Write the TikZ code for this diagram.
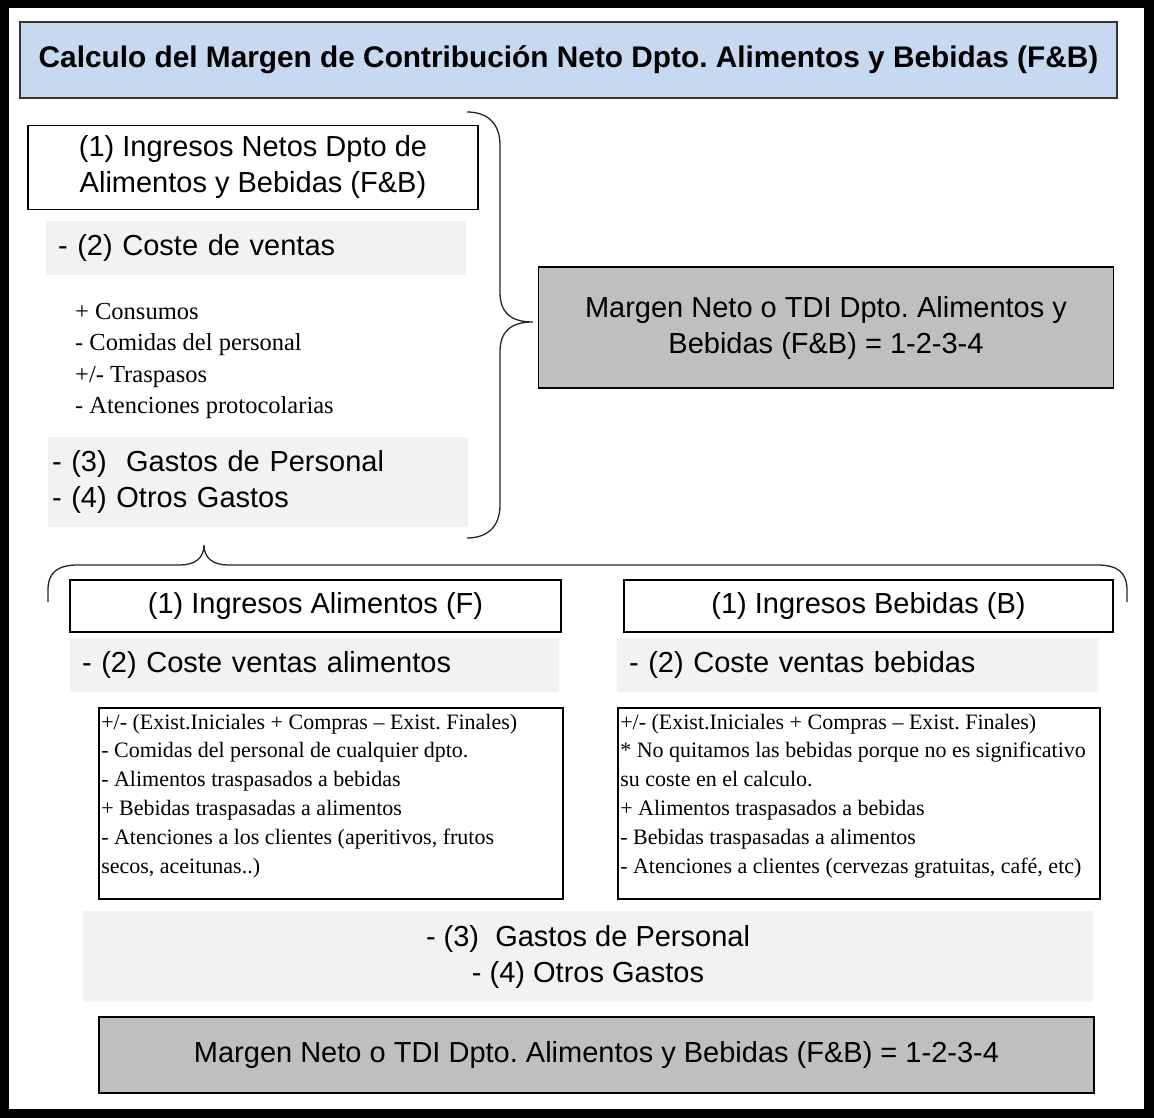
\documentclass[tikz,border=0pt]{standalone}
\usepackage{fontspec}
\setmainfont{Liberation Serif}
\newfontfamily\arial{Liberation Sans}
\definecolor{titleblue}{HTML}{C6D9F1}
\definecolor{lightfill}{HTML}{F2F2F2}
\definecolor{darkfill}{HTML}{BFBFBF}
\newcommand{\titlefont}{\frenchspacing\arial\bfseries\fontsize{29.8}{35}\selectfont}
\newcommand{\sansfont}{\frenchspacing\arial\fontsize{29}{36}\selectfont}
\newcommand{\listfont}{\frenchspacing\rmfamily\fontsize{24.5}{31.5}\selectfont}
\newcommand{\smallfont}{\frenchspacing\rmfamily\fontsize{22}{28.8}\selectfont}
\begin{document}
\begin{tikzpicture}[x=1pt,y=-1pt,
  titlebox/.style={draw=black!80, line width=1.3pt, fill=titleblue, inner sep=0pt, font=\titlefont},
  whitebox/.style={draw=black, line width=1.5pt, fill=white, inner sep=0pt, font=\sansfont, align=center},
  graybox/.style={fill=lightfill, inner sep=0pt, font=\sansfont},
  darkbox/.style={draw=black, line width=1.5pt, fill=darkfill, inner sep=0pt, font=\sansfont, align=center},
  notebox/.style={draw=black, line width=1.5pt, fill=white, inner xsep=2.5pt, inner ysep=6pt, font=\smallfont, anchor=north west},
  bracestyle/.style={draw=black!85, line width=1.3pt}
]
\useasboundingbox (0,0) rectangle (1154,1118);
\fill[black] (0,0) rectangle (1154,1118);
\fill[white] (9,8) rectangle (1144,1109);

% title
\node[titlebox, minimum width=1097pt, minimum height=76pt] (title) at (568.5,60)
  {Calculo del Margen de Contribución Neto Dpto. Alimentos y Bebidas (F\&B)};

% upper left column
\node[whitebox, minimum width=450pt, minimum height=84pt] (ing) at (253,167.5)
  {(1) Ingresos Netos Dpto de\\Alimentos y Bebidas (F\&B)};
\node[graybox, minimum width=420pt, minimum height=54pt, text width=396pt, inner xsep=12pt, align=left] (coste) at (256,248)
  {- (2) Coste de ventas};
\node[anchor=north west, inner sep=0pt, align=left, font=\listfont] (list) at (75,303)
  {+ Consumos\\- Comidas del personal\\+/- Traspasos\\- Atenciones protocolarias};
\node[graybox, minimum width=420pt, minimum height=90pt, text width=412pt, inner xsep=4pt, align=left] (gastos) at (258,482)
  {- (3)\ \ Gastos de Personal\\- (4) Otros Gastos};

% result box right
\node[darkbox, minimum width=575pt, minimum height=121pt] (res) at (826,327.5)
  {Margen Neto o TDI Dpto. Alimentos y\\Bebidas (F\&B) = 1-2-3-4};

% vertical brace
\coordinate (vbtop) at (467,112);
\coordinate (vbtip) at (533,322);
\coordinate (vbbot) at (467,538);
\draw[bracestyle] (vbtop) .. controls (488,112) and (500,124) .. (500,145) -- (500,292)
  .. controls (500,312) and (510,322) .. (vbtip)
  .. controls (510,322) and (500,332) .. (500,352) -- (500,505)
  .. controls (500,526) and (488,538) .. (vbbot);

% horizontal brace
\coordinate (hbl) at (48,602);
\coordinate (hbtip) at (204,545);
\coordinate (hbr) at (1127,602);
\draw[bracestyle] (hbl) -- (48,590) .. controls (48,572) and (58,565) .. (78,565) -- (180,565)
  .. controls (195,565) and (204,558) .. (hbtip)
  .. controls (204,558) and (213,565) .. (228,565) -- (1097,565)
  .. controls (1117,565) and (1127,572) .. (1127,590) -- (hbr);

% lower columns
\node[whitebox, minimum width=491pt, minimum height=52pt] (ingF) at (315.5,606)
  {(1) Ingresos Alimentos (F)};
\node[whitebox, minimum width=489pt, minimum height=52pt] (ingB) at (868.5,606)
  {(1) Ingresos Bebidas (B)};
\node[graybox, minimum width=489pt, minimum height=54pt, text width=465pt, inner xsep=12pt, align=left] (costeF) at (314.5,665)
  {- (2) Coste ventas alimentos};
\node[graybox, minimum width=482pt, minimum height=54pt, text width=458pt, inner xsep=12pt, align=left] (costeB) at (858,665)
  {- (2) Coste ventas bebidas};

\node[notebox] (noteF) at (98,707)
  {\begin{minipage}[t][179pt][t]{459pt}\raggedright
  +/- (Exist.Iniciales + Compras – Exist. Finales)\\
  - Comidas del personal de cualquier dpto.\\
  - Alimentos traspasados a bebidas\\
  + Bebidas traspasadas a alimentos\\
  - Atenciones a los clientes (aperitivos, frutos\\
  secos, aceitunas..)
  \end{minipage}};
\node[notebox] (noteB) at (617,707)
  {\begin{minipage}[t][179pt][t]{477pt}\raggedright
  +/- (Exist.Iniciales + Compras – Exist. Finales)\\
  {*} No quitamos las bebidas porque no es significativo\\
  su coste en el calculo.\\
  + Alimentos traspasados a bebidas\\
  - Bebidas traspasadas a alimentos\\
  - Atenciones a clientes (cervezas gratuitas, café, etc)
  \end{minipage}};

% bottom
\node[graybox, minimum width=1010pt, minimum height=91pt, align=center] (gastos2) at (588,956.5)
  {- (3)\ \ Gastos de Personal\\- (4) Otros Gastos};
\node[darkbox, minimum width=995pt, minimum height=76pt] (res2) at (596.5,1055)
  {Margen Neto o TDI Dpto. Alimentos y Bebidas (F\&B) = 1-2-3-4};
\end{tikzpicture}
\end{document}
